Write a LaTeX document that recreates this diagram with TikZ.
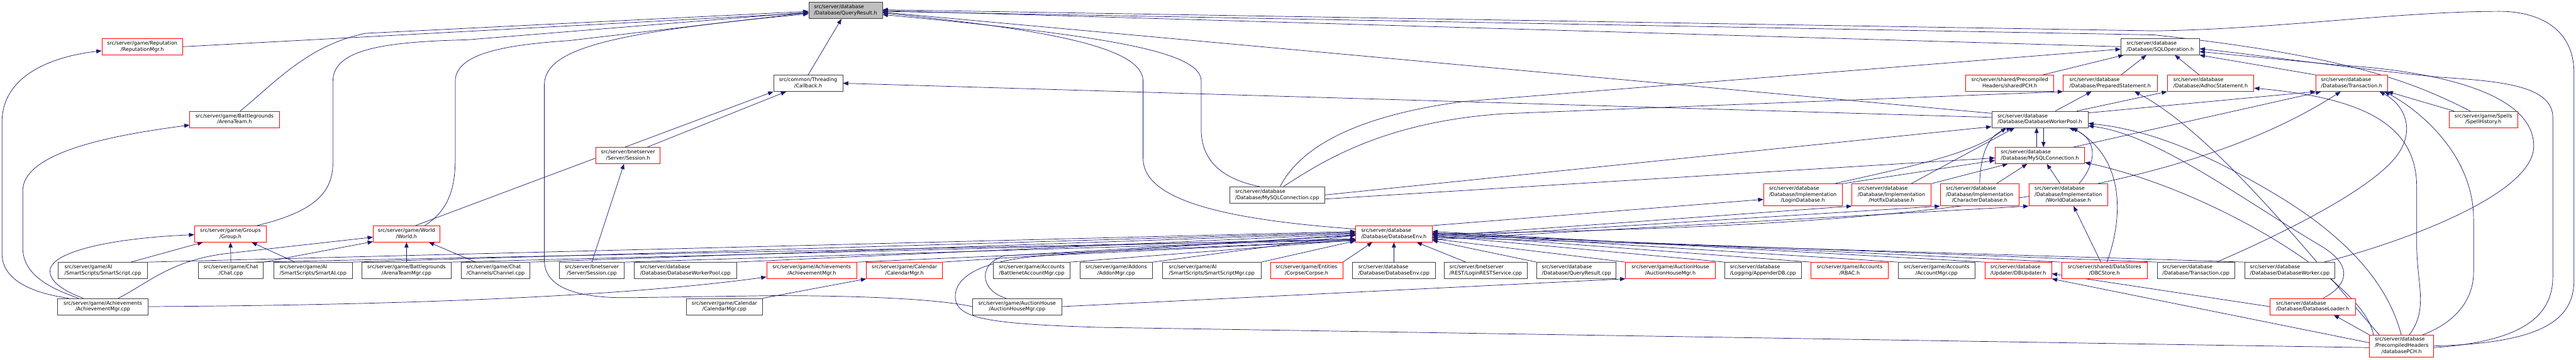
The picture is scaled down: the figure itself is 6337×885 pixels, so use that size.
\documentclass[tikz,border=0pt]{standalone}
\usepackage{fontspec}
\setmainfont{DejaVu Sans}
\usetikzlibrary{arrows.meta, backgrounds}
\definecolor{edgeblue}{RGB}{25,25,112}
\definecolor{rootgray}{RGB}{191,191,191}
\definecolor{boxred}{RGB}{255,0,0}
\newcommand{\flab}[2]{\begin{tabular}{@{}l@{}}#1\\\multicolumn{1}{@{}c@{}}{#2}\end{tabular}}

\begin{document}
\begin{tikzpicture}[
        x=1pt, y=-1pt,
        file/.style={
            rectangle,
            draw=black!75,
            line width=1.2pt,
            fill=white,
            inner sep=0pt,
            minimum height=40pt,
            font=\fontsize{12.4}{15}\selectfont
        },
        cut/.style={file, draw=boxred},
        rootfile/.style={file, fill=rootgray},
        threeline/.style={minimum height=54pt},
        dep/.style={
            draw=edgeblue,
            line width=1.1pt,
            -{Triangle[length=13pt,width=10pt]}
        }
    ]
    \useasboundingbox (0,0) rectangle (6337,885);

    % Root and upper headers
    \node[rootfile, minimum width=181] (qr)        at (2080,26)  {\flab{src/server/database}{/Database/QueryResult.h}};
    \node[cut,  minimum width=199]     (reput)     at (350,115)  {\flab{src/server/game/Reputation}{/ReputationMgr.h}};
    \node[file, minimum width=193]     (sqlop)     at (5314,115) {\flab{src/server/database}{/Database/SQLOperation.h}};
    \node[file, minimum width=170]     (callback)  at (1988,205) {\flab{src/common/Threading}{/Callback.h}};
    \node[cut,  minimum width=216]     (sharedpch) at (4944,205) {\flab{src/server/shared/Precompiled}{Headers/sharedPCH.h}};
    \node[cut,  minimum width=231]     (prepstmt)  at (5191,205) {\flab{src/server/database}{/Database/PreparedStatement.h}};
    \node[cut,  minimum width=213]     (adhoc)     at (5438,205) {\flab{src/server/database}{/Database/AdhocStatement.h}};
    \node[cut,  minimum width=176]     (transh)    at (5785,205) {\flab{src/server/database}{/Database/Transaction.h}};
    \node[cut,  minimum width=220]     (arenateam) at (577,294)  {\flab{src/server/game/Battlegrounds}{/ArenaTeam.h}};
    \node[file, minimum width=237]     (wpoolh)    at (5018,294) {\flab{src/server/database}{/Database/DatabaseWorkerPool.h}};
    \node[cut,  minimum width=168]     (spellhist) at (6109,294) {\flab{src/server/game/Spells}{/SpellHistory.h}};
    \node[cut,  minimum width=158]     (sessionh)  at (1545,383) {\flab{src/server/bnetserver}{/Server/Session.h}};
    \node[cut,  minimum width=220]     (mysqlh)    at (5018,383) {\flab{src/server/database}{/Database/MySQLConnection.h}};
    \node[file, minimum width=235]     (mysqlcpp)  at (3142,480) {\flab{src/server/database}{/Database/MySQLConnection.cpp}};
    \node[cut, threeline, minimum width=193] (logindb)  at (4435,480) {\flab{src/server/database\\/Database/Implementation}{/LoginDatabase.h}};
    \node[cut, threeline, minimum width=194] (hotfixdb) at (4653,480) {\flab{src/server/database\\/Database/Implementation}{/HotfixDatabase.h}};
    \node[cut, threeline, minimum width=194] (chardb)   at (4870,480) {\flab{src/server/database\\/Database/Implementation}{/CharacterDatabase.h}};
    \node[cut, threeline, minimum width=194] (worlddb)  at (5088,480) {\flab{src/server/database\\/Database/Implementation}{/WorldDatabase.h}};
    \node[cut,  minimum width=177]     (group)     at (567,576)  {\flab{src/server/game/Groups}{/Group.h}};
    \node[cut,  minimum width=164]     (world)     at (1000,576) {\flab{src/server/game/World}{/World.h}};
    \node[cut,  minimum width=188]     (dbenvh)    at (3429,576) {\flab{src/server/database}{/Database/DatabaseEnv.h}};

    % Bottom row of includers
    \node[file, minimum width=219] (sscript)    at (253,666)  {\flab{src/server/game/AI}{/SmartScripts/SmartScript.cpp}};
    \node[file, minimum width=160] (chatcpp)    at (568,666)  {\flab{src/server/game/Chat}{/Chat.cpp}};
    \node[file, minimum width=193] (smartai)    at (770,666)  {\flab{src/server/game/AI}{/SmartScripts/SmartAI.cpp}};
    \node[file, minimum width=221] (arenamgr)   at (1000,666) {\flab{src/server/game/Battlegrounds}{/ArenaTeamMgr.cpp}};
    \node[file, minimum width=168] (channel)    at (1219,666) {\flab{src/server/game/Chat}{/Channels/Channel.cpp}};
    \node[file, minimum width=159] (sessioncpp) at (1456,666) {\flab{src/server/bnetserver}{/Server/Session.cpp}};
    \node[file, minimum width=251] (wpoolcpp)   at (1686,666) {\flab{src/server/database}{/Database/DatabaseWorkerPool.cpp}};
    \node[cut,  minimum width=222] (achh)       at (1997,666) {\flab{src/server/game/Achievements}{/AchievementMgr.h}};
    \node[cut,  minimum width=187] (calh)       at (2225,666) {\flab{src/server/game/Calendar}{/CalendarMgr.h}};
    \node[file, minimum width=189] (bnetacc)    at (2538,666) {\flab{src/server/game/Accounts}{/BattlenetAccountMgr.cpp}};
    \node[file, minimum width=179] (addon)      at (2746,666) {\flab{src/server/game/Addons}{/AddonMgr.cpp}};
    \node[file, minimum width=242] (ssmgr)      at (2981,666) {\flab{src/server/game/AI}{/SmartScripts/SmartScriptMgr.cpp}};
    \node[cut,  minimum width=178] (corpse)     at (3214,666) {\flab{src/server/game/Entities}{/Corpse/Corpse.h}};
    \node[file, minimum width=203] (dbenvcpp)   at (3429,666) {\flab{src/server/database}{/Database/DatabaseEnv.cpp}};
    \node[file, minimum width=203] (loginrest)  at (3655,666) {\flab{src/server/bnetserver}{/REST/LoginRESTService.cpp}};
    \node[file, minimum width=195] (qrcpp)      at (3878,666) {\flab{src/server/database}{/Database/QueryResult.cpp}};
    \node[cut,  minimum width=220] (ahh)        at (4109,666) {\flab{src/server/game/AuctionHouse}{/AuctionHouseMgr.h}};
    \node[file, minimum width=188] (appender)   at (4337,666) {\flab{src/server/database}{/Logging/AppenderDB.cpp}};
    \node[cut,  minimum width=190] (rbac)       at (4550,666) {\flab{src/server/game/Accounts}{/RBAC.h}};
    \node[file, minimum width=190] (acccpp)     at (4764,666) {\flab{src/server/game/Accounts}{/AccountMgr.cpp}};
    \node[cut,  minimum width=164] (dbupdater)  at (4965,666) {\flab{src/server/database}{/Updater/DBUpdater.h}};
    \node[cut,  minimum width=211] (dbcstore)   at (5177,666) {\flab{src/server/shared/DataStores}{/DBCStore.h}};
    \node[file, minimum width=191] (transcpp)   at (5402,666) {\flab{src/server/database}{/Database/Transaction.cpp}};
    \node[file, minimum width=222] (dbworker)   at (5633,666) {\flab{src/server/database}{/Database/DatabaseWorker.cpp}};

    \node[file, minimum width=222] (achcpp)     at (253,755)  {\flab{src/server/game/Achievements}{/AchievementMgr.cpp}};
    \node[file, minimum width=187] (calcpp)     at (1782,755) {\flab{src/server/game/Calendar}{/CalendarMgr.cpp}};
    \node[file, minimum width=219] (ahcpp)      at (2502,755) {\flab{src/server/game/AuctionHouse}{/AuctionHouseMgr.cpp}};
    \node[cut,  minimum width=210] (dbloader)   at (5689,755) {\flab{src/server/database}{/Database/DatabaseLoader.h}};
    \node[cut, threeline, minimum width=158] (databasepch) at (5908,852) {\flab{src/server/database\\/PrecompiledHeaders}{/databasePCH.h}};

    \begin{scope}[on background layer]
    % Loops out of AchievementMgr.cpp
    \draw[dep] ([xshift=-84]achcpp.north) .. controls (80,722) and (5,690) .. (5,625) -- (5,300) .. controls (5,190) and (120,140) .. ([yshift=-10]reput.west);
    \draw[dep] ([xshift=-60]achcpp.north) .. controls (130,712) and (56,680) .. (56,610) -- (56,470) .. controls (56,370) and (300,330) .. ([yshift=-14]arenateam.west);
    \draw[dep] ([xshift=-48]achcpp.north) .. controls (160,718) and (123,695) .. (123,668) .. controls (123,615) and (300,585) .. ([yshift=-2]group.west);
    \draw[dep] ([xshift=38]achcpp.north) .. controls (360,700) and (420,640) .. (560,624) -- ([yshift=-8]world.west);
    \draw[dep] (achcpp.east) .. controls (900,752) and (1500,735) .. ([yshift=-16]achh.west);

    % Group.h and World.h
    \draw[dep] ([xshift=69]sscript.north) -- ([xshift=-68]group.south);
    \draw[dep] (chatcpp.north) -- (group.south);
    \draw[dep] ([xshift=-44]smartai.north) -- ([xshift=52]group.south);
    \draw[dep] (chatcpp.north east) -- ([yshift=-19]world.west);
    \draw[dep] (arenamgr.north) -- (world.south);
    \draw[dep] ([xshift=-49]channel.north) -- ([xshift=55]world.south);

    % bnetserver session and callback
    \draw[dep] (sessioncpp.north) -- ([xshift=-10]sessionh.south);
    \draw[dep] ([xshift=47]sessionh.north) -- ([xshift=-54]callback.south);
    \draw[dep] ([xshift=22]world.north) -- (callback.south west);
    \draw[dep] ([yshift=5]wpoolh.west) -- (callback.east);

    % Into QueryResult.h from the left
    \draw[dep] (reput.east) -- ([yshift=-6]qr.west);
    \draw[dep] ([xshift=14]arenateam.north) .. controls (680,200) and (760,110) .. (900,82) -- ([yshift=-2]qr.west);
    \draw[dep] ([xshift=65]group.north) .. controls (780,520) and (819,470) .. (819,400) -- (819,200) .. controls (819,120) and (950,103) .. (1150,98) -- ([yshift=-4]qr.west);
    \draw[dep] ([xshift=45]world.north) .. controls (1100,520) and (1120,470) .. (1120,390) -- (1120,200) .. controls (1120,130) and (1250,110) .. (1400,100) -- ([yshift=-5]qr.west);
    \draw[dep] (ahcpp.west) .. controls (2300,735) and (2100,728) .. (1900,728) -- (1550,733) .. controls (1400,735) and (1339,700) .. (1339,640) -- (1339,210) .. controls (1339,120) and (1500,80) .. ([yshift=-8]qr.west);
    \draw[dep] (callback.north) -- ([xshift=-10]qr.south);

    % Into QueryResult.h from the right
    \draw[dep] (sqlop.west) -- (qr.east);
    \draw[dep] ([yshift=15]wpoolh.west) -- ([yshift=-4]qr.east);
    \draw[dep] ([yshift=12]dbenvh.west) .. controls (3000,540) and (2812,490) .. (2812,390) -- (2812,200) .. controls (2812,120) and (2600,75) .. ([yshift=-6]qr.east);
    \draw[dep] ([xshift=-43]mysqlcpp.north) .. controls (3000,440) and (2955,390) .. (2955,320) -- (2955,200) .. controls (2955,130) and (2750,90) .. ([yshift=-10]qr.east);
    \draw[dep] ([xshift=-32]spellhist.north) .. controls (5950,210) and (5800,140) .. (5300,86) -- ([yshift=-2]qr.east);
    \draw[dep] (databasepch.east) .. controls (6250,845) and (6332,790) .. (6332,690) -- (6332,180) .. controls (6332,60) and (6230,28) .. (6150,28) .. controls (5900,28) and (5600,72) .. (5300,76) -- ([yshift=2]qr.east);

    % SQLOperation.h
    \draw[dep] ([xshift=27]prepstmt.north) -- ([xshift=-34]sqlop.south);
    \draw[dep] ([xshift=-28]adhoc.north) -- ([xshift=36]sqlop.south);
    \draw[dep] (transh.north west) -- (sqlop.south east);
    \draw[dep] ([xshift=81]sharedpch.north) -- ([xshift=-90]sqlop.south);
    \draw[dep] ([xshift=7]mysqlcpp.north) .. controls (3190,380) and (3300,290) .. (3600,250) -- ([yshift=-6]sqlop.west);
    \draw[dep] ([yshift=-4]databasepch.east) .. controls (6220,840) and (6280,770) .. (6280,680) -- (6280,290) .. controls (6280,210) and (6150,200) .. (6000,190) .. controls (5800,170) and (5550,135) .. ([yshift=-5]sqlop.east);
    \draw[dep] ([xshift=84]dbworker.north) .. controls (5900,600) and (6233,480) .. (6233,360) .. controls (6233,230) and (6000,175) .. (5750,160) -- ([yshift=-12]sqlop.east);

    % Statements and transactions
    \draw[dep] ([xshift=15]mysqlcpp.north) .. controls (3250,400) and (3400,300) .. (3700,280) -- (prepstmt.south west);
    \draw[dep] ([xshift=38]wpoolh.north) -- ([xshift=-46]prepstmt.south);
    \draw[dep] ([xshift=-55]databasepch.north) .. controls (5700,650) and (5450,330) .. ([xshift=60]prepstmt.south);
    \draw[dep] ([xshift=91]wpoolh.north) -- (adhoc.south west);
    \draw[dep] ([xshift=19]databasepch.north) .. controls (5975,760) and (5945,700) .. (5945,600) -- (5945,460) .. controls (5945,300) and (5800,240) .. ([yshift=-12]adhoc.east);
    \draw[dep] ([yshift=16]wpoolh.east) -- (transh.south west);
    \draw[dep] ([xshift=82]mysqlh.north) -- ([xshift=-75]transh.south);
    \draw[dep] (dbenvh.east) .. controls (4500,560) and (5300,520) .. ([xshift=-27]transh.south);
    \draw[dep] ([xshift=51]transcpp.north) .. controls (5650,560) and (5860,450) .. (5905,370) .. controls (5940,310) and (5910,255) .. ([xshift=-20]transh.south east);
    \draw[dep] ([xshift=-72]spellhist.north) -- (transh.south east);
    \draw[dep] ([xshift=52]databasepch.north) .. controls (6050,790) and (6085,730) .. (6085,670) -- (6085,540) .. controls (6085,380) and (5950,270) .. ([xshift=-8]transh.south east);

    % Worker pool and connection
    \draw[dep] ([xshift=-8]mysqlh.north) -- ([xshift=-8]wpoolh.south);
    \draw[dep] ([xshift=9]wpoolh.south) -- ([xshift=9]mysqlh.north);
    \draw[dep] (mysqlcpp.east) -- ([yshift=-18]wpoolh.west);
    \draw[dep] ([yshift=-10]mysqlcpp.east) -- ([yshift=-6]mysqlh.west);
    \draw[dep] ([xshift=77]logindb.north) .. controls (4700,410) and (4850,380) .. ([xshift=-83]wpoolh.south);
    \draw[dep] (logindb.north east) -- ([yshift=-12]mysqlh.west);
    \draw[dep] ([xshift=48]hotfixdb.north) -- ([xshift=-62]wpoolh.south);
    \draw[dep] (hotfixdb.north east) -- ([xshift=-79]mysqlh.south);
    \draw[dep] (chardb.north) .. controls (4872,380) and (4890,330) .. ([xshift=-69]wpoolh.south);
    \draw[dep] ([xshift=41]chardb.north) -- ([xshift=-31]mysqlh.south);
    \draw[dep] ([xshift=-20]worlddb.north) -- ([xshift=17]mysqlh.south);
    \draw[dep] ([xshift=26]worlddb.north) .. controls (5160,400) and (5160,340) .. ([xshift=72]wpoolh.south);
    \draw[dep] ([xshift=-9]dbcstore.north) -- ([xshift=13]worlddb.south);
    \draw[dep] ([xshift=6]dbcstore.north) .. controls (5215,560) and (5240,400) .. ([xshift=80]wpoolh.south);
    \draw[dep] ([xshift=-1]databasepch.north) .. controls (5880,720) and (5800,600) .. (5600,480) .. controls (5450,390) and (5300,320) .. ([yshift=-10]wpoolh.east);
    \draw[dep] ([xshift=10]databasepch.north west) .. controls (5820,700) and (5450,470) .. ([yshift=-17]mysqlh.east);
    \draw[dep] ([xshift=26]dbloader.north) .. controls (5780,700) and (5790,650) .. (5700,600) .. controls (5500,480) and (5300,330) .. ([yshift=-16]wpoolh.east);

    % Loader, updater
    \draw[dep] (dbloader.west) -- ([yshift=-8]dbupdater.east);
    \draw[dep] (databasepch.north west) -- ([xshift=52]dbloader.south);
    \draw[dep] ([yshift=8]databasepch.west) -- (dbupdater.south east);
    \draw[dep] ([yshift=-4]databasepch.west) -- (2700,806) .. controls (2430,797) and (2350,785) .. (2350,730) .. controls (2350,675) and (2430,635) .. (2600,628) -- ([yshift=-16]dbenvh.west);

    % Achievements, calendar, auction house
    \draw[dep] (calcpp.north east) -- (calh.south west);
    \draw[dep] (ahcpp.east) -- (ahh.south west);
    \draw[dep] ([xshift=-27]ahcpp.north) .. controls (2410,715) and (2405,650) .. (2470,630) -- ([yshift=-4]dbenvh.west);

    % DatabaseEnv.h and the implementation headers
    \draw[dep] (dbenvh.north east) -- ([yshift=-11]logindb.west);
    \draw[dep] ([yshift=-6]dbenvh.east) -- (hotfixdb.south west);
    \draw[dep] ([yshift=-10]dbenvh.east) -- (chardb.south west);
    \draw[dep] ([yshift=-14]dbenvh.east) -- (worlddb.south west);

    % Into DatabaseEnv.h from the left
    \draw[dep] (sscript.north east) -- ([yshift=6]dbenvh.west);
    \draw[dep] ([xshift=60]chatcpp.north) -- ([yshift=-14]dbenvh.west);
    \draw[dep] (smartai.north east) -- ([yshift=4]dbenvh.west);
    \draw[dep] (arenamgr.north east) -- ([yshift=-12]dbenvh.west);
    \draw[dep] (channel.north east) -- ([yshift=2]dbenvh.west);
    \draw[dep] (sessioncpp.north east) -- ([yshift=-14]dbenvh.west);
    \draw[dep] (wpoolcpp.north east) -- ([yshift=0]dbenvh.west);
    \draw[dep] (achh.north east) -- ([yshift=-16]dbenvh.west);
    \draw[dep] (calh.north east) -- ([yshift=-2]dbenvh.west);
    \draw[dep] (bnetacc.north east) -- ([yshift=-15]dbenvh.west);
    \draw[dep] (addon.north east) -- ([yshift=-3]dbenvh.west);
    \draw[dep] (ssmgr.north east) -- ([yshift=-17]dbenvh.west);
    \draw[dep] (corpse.north east) -- ([xshift=-53]dbenvh.south);
    \draw[dep] (dbenvcpp.north) -- (dbenvh.south);
    \draw[dep] ([xshift=-49]loginrest.north) -- ([xshift=56]dbenvh.south);

    % Into DatabaseEnv.h from the right
    \draw[dep] (qrcpp.north west) -- ([yshift=-16]dbenvh.east);
    \draw[dep] (ahh.north west) -- ([yshift=-12]dbenvh.east);
    \draw[dep] (appender.north west) -- ([yshift=-4]dbenvh.east);
    \draw[dep] (rbac.north west) -- ([yshift=0]dbenvh.east);
    \draw[dep] (acccpp.north west) -- ([yshift=3]dbenvh.east);
    \draw[dep] (dbupdater.north west) -- ([yshift=6]dbenvh.east);
    \draw[dep] (dbcstore.north west) -- ([yshift=2]dbenvh.east);
    \draw[dep] (transcpp.north west) -- ([yshift=-2]dbenvh.east);
    \draw[dep] (dbworker.north west) -- ([yshift=-8]dbenvh.east);
    \end{scope}

\end{tikzpicture}
\end{document}
